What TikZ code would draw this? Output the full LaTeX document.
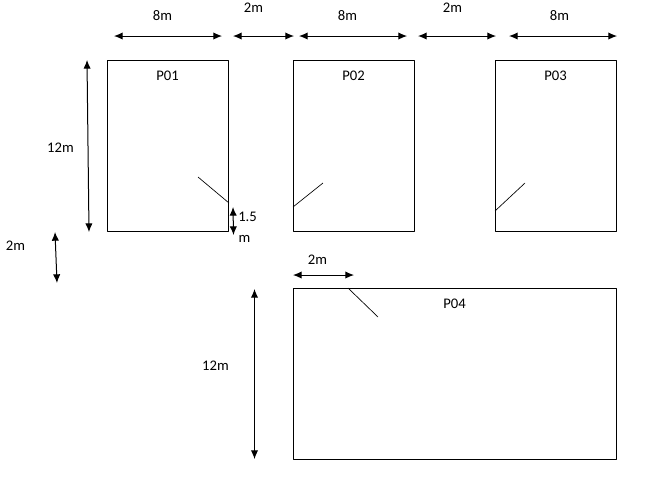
\documentclass[tikz,border=0pt]{standalone}
\usepackage{fontspec}
\setmainfont{Carlito}
\usetikzlibrary{arrows.meta}
\tikzset{
    plot/.style={draw, line width=0.75pt, anchor=north west, inner sep=0pt},
    dim/.style={{Latex[length=6.5pt,width=5.5pt]}-{Latex[length=6.5pt,width=5.5pt]}, line width=0.75pt},
    door/.style={line width=0.5pt},
    lbl/.style={font=\fontsize{11pt}{13pt}\selectfont, inner sep=0pt, yshift=-0.75pt, xshift=0.4pt}
}
\begin{document}
\begin{tikzpicture}[x=0.75pt,y=-0.75pt,line join=round]
    \useasboundingbox (0,0) rectangle (659,476);

    % Plots
    \node[plot, minimum width=90.75pt, minimum height=128.25pt] (p01) at (107,60) {};
    \node[plot, minimum width=90.75pt, minimum height=128.25pt] (p02) at (293,60) {};
    \node[plot, minimum width=90.75pt, minimum height=128.25pt] (p03) at (495,60) {};
    \node[plot, minimum width=242.25pt, minimum height=128.25pt] (p04) at (293,288) {};

    % Plot names
    \node[lbl] (n01) at (167,75) {P01};
    \node[lbl] (n02) at (353,75) {P02};
    \node[lbl] (n03) at (555,75) {P03};
    \node[lbl] (n04) at (454,303) {P04};

    % Top dimensions
    \coordinate (a1) at (114,36); \coordinate (b1) at (222,36);
    \coordinate (a2) at (233,36); \coordinate (b2) at (294,36);
    \coordinate (a3) at (299,36); \coordinate (b3) at (407,36);
    \coordinate (a4) at (418,36); \coordinate (b4) at (496,36);
    \coordinate (a5) at (509,36); \coordinate (b5) at (617,36);
    \draw[dim] (a1) -- (b1);
    \draw[dim] (a2) -- (b2);
    \draw[dim] (a3) -- (b3);
    \draw[dim] (a4) -- (b4);
    \draw[dim] (a5) -- (b5);
    \node[lbl] (t1) at (162,15) {8m};
    \node[lbl] (t2) at (253,7) {2m};
    \node[lbl] (t3) at (347,15) {8m};
    \node[lbl] (t4) at (452,7) {2m};
    \node[lbl] (t5) at (559,15) {8m};

    % Side dimensions
    \coordinate (c1) at (87,60); \coordinate (d1) at (89,232);
    \coordinate (c2) at (55,232); \coordinate (d2) at (57,283);
    \coordinate (c3) at (233,207); \coordinate (d3) at (233.5,235);
    \coordinate (c4) at (254.5,289); \coordinate (d4) at (254.5,459);
    \coordinate (c5) at (293,275); \coordinate (d5) at (354,275);
    \draw[dim] (c1) -- (d1);
    \draw[dim] (c2) -- (d2);
    \draw[dim] (c3) -- (d3);
    \draw[dim] (c4) -- (d4);
    \draw[dim] (c5) -- (d5);
    \node[lbl] (s1) at (60,147) {12m};
    \node[lbl] (s2) at (15,245) {2m};
    \node[lbl] (s3) at (247,216) {1.5};
    \node[lbl] (s4) at (244,238) {m};
    \node[lbl] (s5) at (215,365) {12m};
    \node[lbl] (s6) at (317,259) {2m};

    % Doors
    \coordinate (e1) at (198,177); \coordinate (f1) at (229,203);
    \coordinate (e2) at (293,207); \coordinate (f2) at (323,183);
    \coordinate (e3) at (495,211); \coordinate (f3) at (525,183);
    \coordinate (e4) at (348,288); \coordinate (f4) at (378,317);
    \draw[door] (e1) -- (f1);
    \draw[door] (e2) -- (f2);
    \draw[door] (e3) -- (f3);
    \draw[door] (e4) -- (f4);
\end{tikzpicture}
\end{document}
